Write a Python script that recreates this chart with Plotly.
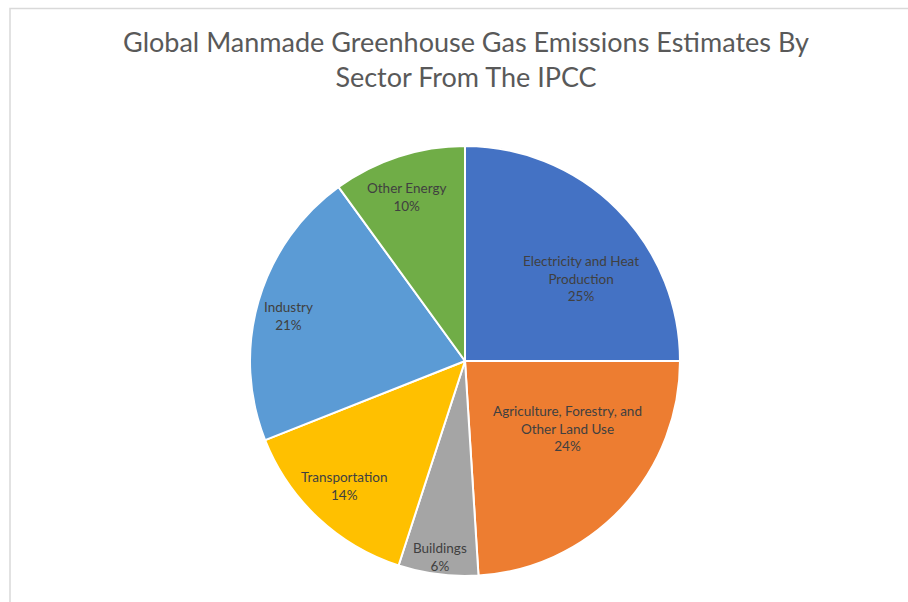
import math
import plotly.graph_objects as go

categories = ["Electricity and Heat<br>Production", "Agriculture, Forestry, and<br>Other Land Use",
              "Buildings", "Transportation", "Industry", "Other Energy"]
values = [25, 24, 6, 14, 21, 10]
colors = ["#4472C4", "#ED7D31", "#A5A5A5", "#FFC000", "#5B9BD5", "#70AD47"]

# label placement style (Excel "best fit"): radius fraction and angle nudge (deg)
label_radius = [0.66, 0.57, 0.92, 0.81, 0.845, 0.81]
label_nudge = [9.5, -10.0, 0.0, 1.0, -2.0, -1.7]

W, H = 908, 602
cx, cy, R = 465, 361, 215

fig = go.Figure(go.Pie(
    labels=categories,
    values=values,
    sort=False,
    direction="clockwise",
    rotation=0,
    marker=dict(colors=colors, line=dict(color="white", width=2)),
    textinfo="none",
    showlegend=False,
    hoverinfo="label+percent",
    domain=dict(x=[(cx - R) / W, (cx + R) / W], y=[1 - (cy + R) / H, 1 - (cy - R) / H]),
))

total = sum(values)
annotations = []
cum = 0
for lab, v, rf, nd in zip(categories, values, label_radius, label_nudge):
    mid = (cum + v / 2) / total * 360 + nd
    cum += v
    th = math.radians(mid)
    px = cx + rf * R * math.sin(th)
    py = cy - rf * R * math.cos(th)
    annotations.append(dict(
        x=px / W, y=1 - py / H, xref="paper", yref="paper",
        text=f"{lab}<br>{round(v / total * 100)}%",
        showarrow=False, xanchor="center", yanchor="middle", align="center",
        font=dict(family="Lato", size=13.5, color="#404040"),
    ))

fig.update_layout(
    width=W, height=H,
    margin=dict(l=0, r=0, t=0, b=0),
    paper_bgcolor="white",
    title=dict(
        text="Global Manmade Greenhouse Gas Emissions Estimates By<br>Sector From The IPCC",
        x=466 / W, xanchor="center", xref="paper",
        y=1 - 52 / H, yanchor="middle", yref="container",
        font=dict(family="Lato", size=27, color="#595959"),
    ),
    annotations=annotations,
    shapes=[dict(type="rect", xref="paper", yref="paper",
                 x0=10 / W, x1=1.2, y0=-0.2, y1=1 - 8.5 / H,
                 line=dict(color="#D9D9D9", width=1.5), fillcolor="rgba(0,0,0,0)", layer="below")],
)

fig.write_html("out.html")
